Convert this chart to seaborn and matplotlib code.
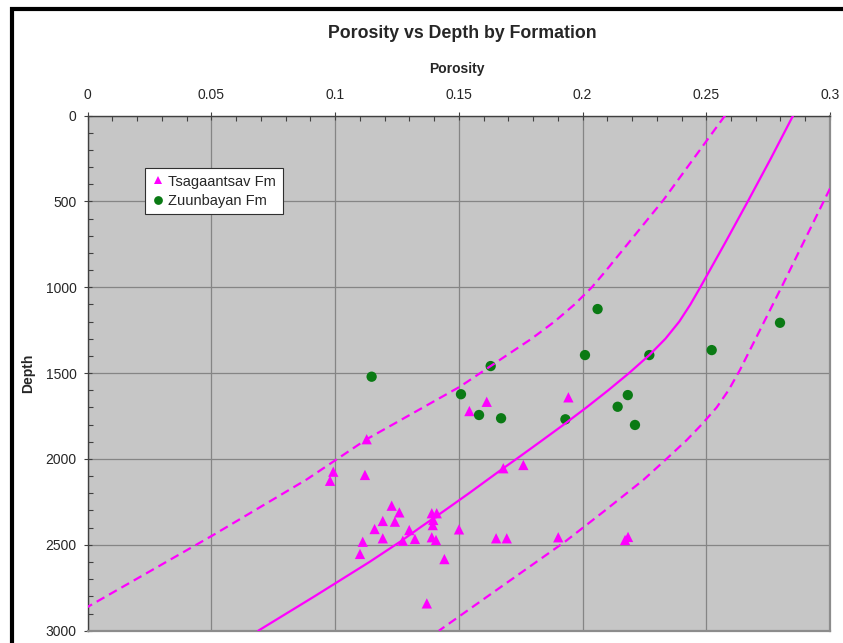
import matplotlib
matplotlib.use("Agg")
import matplotlib.pyplot as plt
import pandas as pd
import seaborn as sns
from matplotlib.patches import Rectangle
from matplotlib.ticker import MultipleLocator, FuncFormatter

# Core samples: Tsagaantsav Formation (porosity fraction, depth)
tsag_porosity = [0.1128, 0.0993, 0.0980, 0.1121, 0.1229, 0.1260, 0.1193, 0.1242,
                 0.1160, 0.1300, 0.1391, 0.1411, 0.1397, 0.1395, 0.1193, 0.1112,
                 0.1274, 0.1323, 0.1391, 0.1408, 0.1501, 0.1101, 0.1442, 0.1371,
                 0.1613, 0.1543, 0.1943, 0.1680, 0.1761, 0.1651, 0.1694, 0.1902,
                 0.2172, 0.2184]
tsag_depth = [1885, 2074, 2127, 2093, 2272, 2311, 2361, 2365,
              2408, 2414, 2316, 2316, 2355, 2385, 2462, 2482,
              2476, 2466, 2456, 2472, 2410, 2553, 2583, 2841,
              1667, 1721, 1641, 2054, 2035, 2462, 2462, 2456,
              2472, 2454]

# Core samples: Zuunbayan Formation
zuun_porosity = [0.1148, 0.1509, 0.2061, 0.2798, 0.2010, 0.2270, 0.2522,
                 0.1629, 0.1582, 0.1671, 0.1931, 0.2183, 0.2142, 0.2212]
zuun_depth = [1521, 1623, 1127, 1207, 1395, 1395, 1366,
              1459, 1744, 1763, 1769, 1628, 1696, 1802]

# Compaction trend and its upper / lower envelopes
trend_porosity = [0.2851, 0.2761, 0.2668, 0.2573, 0.2476, 0.2436, 0.2391, 0.2335,
                  0.2270, 0.2188, 0.2104, 0.2016, 0.1924, 0.1829, 0.1733, 0.1680,
                  0.1541, 0.1443, 0.1343, 0.1263, 0.1139, 0.0917, 0.0690]
trend_depth = [0, 250, 500, 750, 1000, 1100, 1200, 1300,
               1395, 1500, 1600, 1700, 1800, 1900, 2000, 2054,
               2200, 2300, 2400, 2482, 2600, 2800, 3000]

upper_porosity = [0.2576, 0.2327, 0.2091, 0.2038, 0.1968, 0.1887, 0.1794, 0.1690,
                  0.1629, 0.1505, 0.1128, 0.0886, 0.0508, 0.0]
upper_depth = [0, 492, 910, 1000, 1100, 1200, 1300, 1400,
               1459, 1579, 1885, 2119, 2443, 2862]

lower_porosity = [0.3, 0.2805, 0.2636, 0.2590, 0.2542, 0.2481, 0.2421, 0.2339,
                  0.2246, 0.2091, 0.1929, 0.1420]
lower_depth = [425, 997, 1482, 1600, 1700, 1800, 1890, 2000,
               2122, 2300, 2482, 3000]

x_ticks = [0, 0.05, 0.1, 0.15, 0.2, 0.25, 0.3]
y_ticks = [0, 500, 1000, 1500, 2000, 2500, 3000]

formations = ["Tsagaantsav Fm", "Zuunbayan Fm"]

samples = pd.DataFrame({
    "Porosity": tsag_porosity + zuun_porosity,
    "Depth": tsag_depth + zuun_depth,
    "Formation": [formations[0]] * len(tsag_porosity) + [formations[1]] * len(zuun_porosity),
})

curves = pd.DataFrame({
    "Porosity": trend_porosity + upper_porosity + lower_porosity,
    "Depth": trend_depth + upper_depth + lower_depth,
    "Curve": ["trend"] * len(trend_porosity) + ["upper"] * len(upper_porosity)
             + ["lower"] * len(lower_porosity),
})

sns.set_style("white")
plt.rcParams["font.family"] = ["Liberation Sans", "DejaVu Sans"]

W, H = 843, 643
fig = plt.figure(figsize=(W / 100, H / 100), dpi=100, facecolor="white")

# plot rectangle in pixels
L, R, T, B = 87.5, 830.0, 115.5, 630.7
ax = fig.add_axes([L / W, 1 - B / H, (R - L) / W, (B - T) / H])
ax.set_facecolor("#c6c6c6")

MAGENTA = "#ff00ff"
GREEN = "#0a7a14"

sns.scatterplot(
    data=samples, x="Porosity", y="Depth", hue="Formation", style="Formation",
    palette={formations[0]: MAGENTA, formations[1]: GREEN},
    markers={formations[0]: "^", formations[1]: "o"},
    s=55, linewidth=0, ax=ax, zorder=3,
)

sns.lineplot(
    data=curves, x="Porosity", y="Depth", hue="Curve", style="Curve",
    palette={"trend": MAGENTA, "upper": MAGENTA, "lower": MAGENTA},
    dashes={"trend": "", "upper": (4, 2.4), "lower": (4, 2.4)},
    sort=False, estimator=None, linewidth=1.6, legend=False, ax=ax, zorder=4,
)
for line in ax.get_lines():
    line.set_solid_joinstyle("round")
    line.set_dash_joinstyle("round")

ax.set_xlim(0, 0.3)
ax.set_ylim(3000, 0)

ax.xaxis.tick_top()
ax.xaxis.set_label_position("top")
ax.set_xticks(x_ticks)
ax.set_yticks(y_ticks)
ax.xaxis.set_minor_locator(MultipleLocator(0.01))
ax.yaxis.set_minor_locator(MultipleLocator(100))
ax.xaxis.set_major_formatter(FuncFormatter(lambda v, p: f"{v:g}"))
ax.yaxis.set_major_formatter(FuncFormatter(lambda v, p: f"{v:g}"))

ax.tick_params(axis="x", which="major", direction="inout", length=6, width=0.8,
               color="#404040", top=True, bottom=False, labeltop=True,
               labelbottom=False, labelsize=10, pad=7)
ax.tick_params(axis="x", which="minor", direction="in", length=3.5, width=0.8,
               color="#404040", top=True, bottom=False)
ax.tick_params(axis="y", which="major", direction="inout", length=6, width=0.8,
               color="#404040", left=True, right=False, labelsize=10, pad=5)
ax.tick_params(axis="y", which="minor", direction="in", length=3.5, width=0.8,
               color="#404040", left=True, right=False)

ax.grid(True, which="major", color="#858585", linewidth=0.9)
ax.grid(False, which="minor")
ax.set_axisbelow(True)

for side in ("top", "left"):
    ax.spines[side].set_color("#404040")
    ax.spines[side].set_linewidth(1.0)
for side in ("right", "bottom"):
    ax.spines[side].set_color("#8c8c8c")
    ax.spines[side].set_linewidth(1.6)

ax.set_xlabel("Porosity", fontsize=10, fontweight="bold")
ax.xaxis.set_label_coords(0.497, 1 + (T - 69.5) / (B - T))
ax.xaxis.label.set_va("center")
ax.set_ylabel("Depth", fontsize=10, fontweight="bold")
ax.yaxis.set_label_coords((28 - L) / (R - L), 0.5)
ax.yaxis.label.set_va("center")

fig.text(462.5 / W, 1 - 33 / H, "Porosity vs Depth by Formation",
         fontsize=12.8, fontweight="bold", ha="center", va="center")

handles, labels = ax.get_legend_handles_labels()
leg = ax.legend(handles, labels, loc="upper left",
                bbox_to_anchor=((145 - L) / (R - L), 1 - (168 - T) / (B - T)),
                borderaxespad=0, fontsize=10.5, frameon=True, fancybox=False,
                shadow=False, framealpha=1, edgecolor="#303030",
                handlelength=0.9, handletextpad=0.25, labelspacing=0.35,
                borderpad=0.45, markerscale=0.85)
leg.get_frame().set_linewidth(0.8)

# outer chart frame (extends past the lower/right image edges)
fig.add_artist(Rectangle((11.5 / W, -0.2), 1.3, 0.2 + (1 - 8.5 / H),
                         transform=fig.transFigure, fill=False,
                         edgecolor="black", linewidth=3, clip_on=False))

fig.savefig("out.png", dpi=100, facecolor="white")
